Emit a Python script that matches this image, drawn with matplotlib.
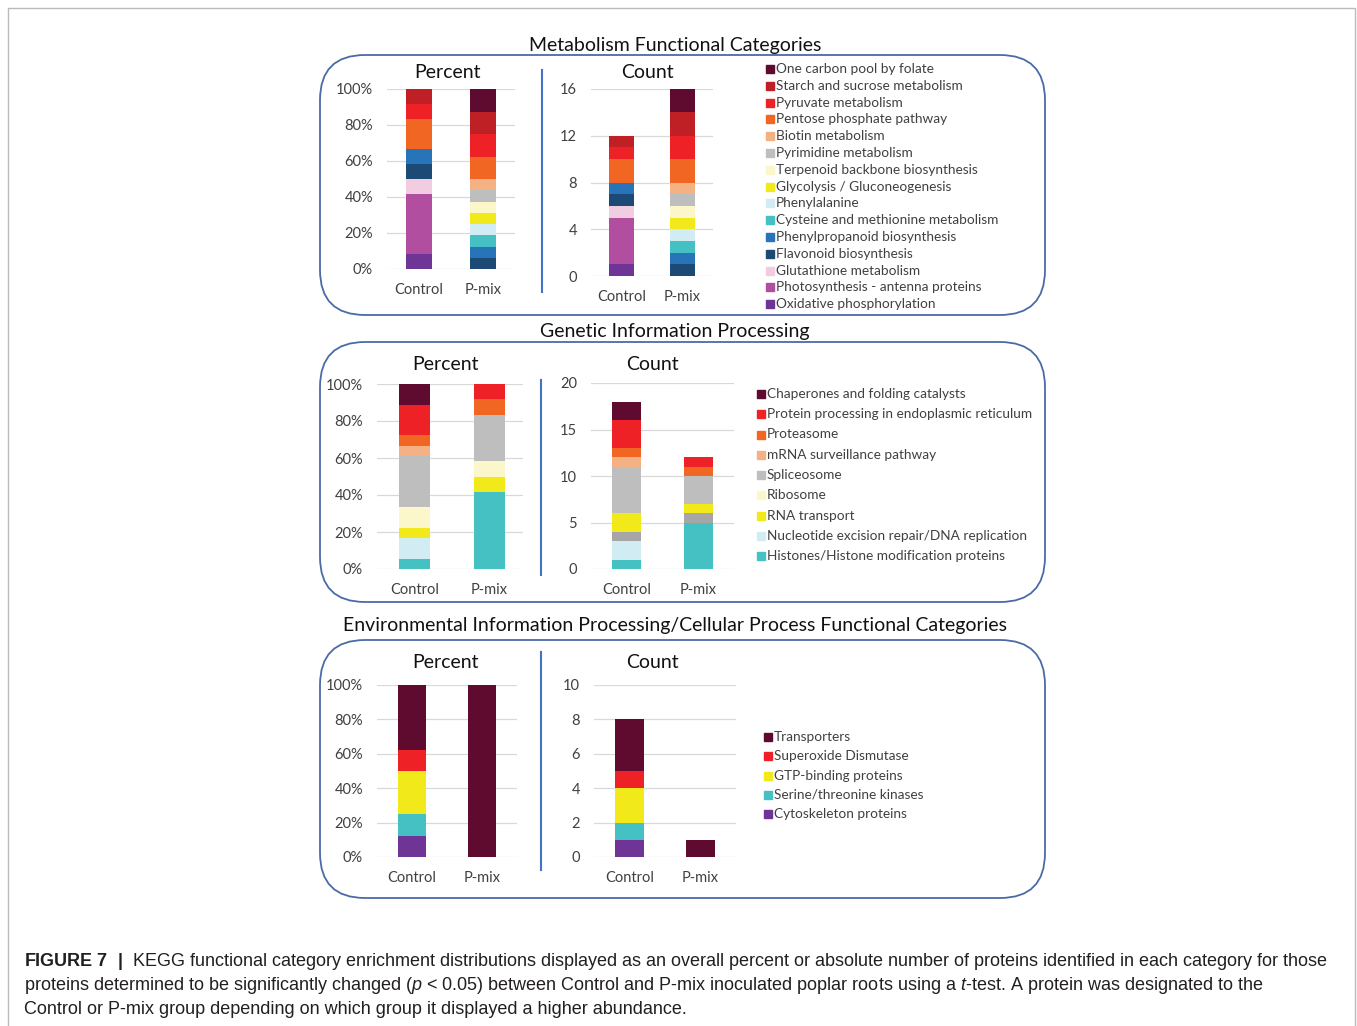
import matplotlib
matplotlib.use("Agg")
import matplotlib.pyplot as plt
from matplotlib.patches import FancyBboxPatch, Rectangle
import numpy as np

plt.rcParams['font.family'] = ['Lato', 'DejaVu Sans']
plt.rcParams['mathtext.fontset'] = 'custom'
plt.rcParams['mathtext.rm'] = 'Liberation Sans'
plt.rcParams['mathtext.it'] = 'Liberation Sans:italic'
plt.rcParams['mathtext.bf'] = 'Liberation Sans:bold'

W, H = 1357, 1026

groups = ["Control", "P-mix"]

# metabolism, bottom -> top of the stack
met_names = ["Oxidative phosphorylation", "Photosynthesis - antenna proteins",
             "Glutathione metabolism", "Flavonoid biosynthesis",
             "Phenylpropanoid biosynthesis", "Cysteine and methionine metabolism",
             "Phenylalanine", "Glycolysis / Gluconeogenesis",
             "Terpenoid backbone biosynthesis", "Pyrimidine metabolism",
             "Biotin metabolism", "Pentose phosphate pathway",
             "Pyruvate metabolism", "Starch and sucrose metabolism",
             "One carbon pool by folate"]
met_control = [1, 4, 1, 1, 1, 0, 0, 0, 0, 0, 0, 2, 1, 1, 0]
met_pmix = [0, 0, 0, 1, 1, 1, 1, 1, 1, 1, 1, 2, 2, 2, 2]
met_colors = ["#6E3596", "#B24EA0", "#F2CCE0", "#1C4A74", "#2774B8", "#45C0C3",
              "#D2ECF4", "#F2E91B", "#FCF6CB", "#BEBEBE", "#F4B184", "#F26623",
              "#EE2226", "#BF2026", "#5F0A2F"]

# genetic information processing
gen_names = ["Histones/Histone modification proteins",
             "Nucleotide excision repair/DNA replication", "RNA transport",
             "Ribosome", "Spliceosome", "mRNA surveillance pathway", "Proteasome",
             "Protein processing in endoplasmic reticulum",
             "Chaperones and folding catalysts"]
gen_control = [1, 2, 1, 2, 5, 1, 1, 3, 2]
gen_pmix = [5, 0, 1, 1, 3, 0, 1, 1, 0]
gen_colors = ["#45C0C3", "#D2ECF4", "#F2E91B", "#FCF6CB", "#BEBEBE", "#F4B184",
              "#F26623", "#EE2226", "#5F0A2F"]
# the count chart was coloured differently in the original
gen_colors_count = ["#45C0C3", "#D2ECF4", "#A6A6A6", "#F2E91B", "#BEBEBE", "#F4B184",
                    "#F26623", "#EE2226", "#5F0A2F"]

# environmental / cellular process
env_names = ["Cytoskeleton proteins", "Serine/threonine kinases",
             "GTP-binding proteins", "Superoxide Dismutase", "Transporters"]
env_control = [1, 1, 2, 1, 3]
env_pmix = [0, 0, 0, 0, 1]
env_colors = ["#6E3596", "#45C0C3", "#F2E91B", "#EE2226", "#5F0A2F"]

TXT = "#404040"
BOX = "#4A6BA6"

fig = plt.figure(figsize=(W / 100, H / 100), dpi=100)
bg = fig.add_axes([0, 0, 1, 1])
bg.set_xlim(0, W)
bg.set_ylim(H, 0)
bg.axis("off")


def px_axes(l, r, t, b):
    return fig.add_axes([l / W, 1 - b / H, (r - l) / W, (b - t) / H])


def stacked(ax, control, pmix, colors, percent, ymax, step, xr=1.5, width=0.41):
    vals = np.array([control, pmix], dtype=float)
    if percent:
        vals = vals / vals.sum(axis=1, keepdims=True) * 100
    bottom = np.zeros(2)
    for k in range(vals.shape[1]):
        ax.bar([0, 1], vals[:, k], width, bottom=bottom, color=colors[k], zorder=3)
        bottom += vals[:, k]
    ax.set_xlim(-0.5, xr)
    ax.set_ylim(0, ymax)
    ticks = np.arange(0, ymax + 0.1, step)
    ax.set_yticks(ticks)
    if percent:
        ax.set_yticklabels(["%d%%" % t for t in ticks])
    else:
        ax.set_yticklabels(["%d" % t for t in ticks])
    ax.set_xticks([0, 1])
    ax.set_xticklabels(groups)
    ax.tick_params(length=0, pad=10, labelsize=10.5, labelcolor=TXT)
    ax.grid(axis="y", color="#D9D9D9", lw=0.9, zorder=0)
    for s in ax.spines.values():
        s.set_visible(False)
    ax.patch.set_alpha(0)


def legend(names, colors, x, y0, step, size=9.8):
    for i, (n, c) in enumerate(zip(names[::-1], colors[::-1])):
        y = y0 + i * step
        bg.add_patch(Rectangle((x, y - 4), 8, 8, color=c))
        bg.text(x + 10, y, n, fontsize=size, color=TXT, va="center", ha="left")


def panel_box(top, bottom, title, ty):
    bg.add_patch(FancyBboxPatch((320, top), 725, bottom - top,
                                boxstyle="round,pad=0,rounding_size=45",
                                fill=False, ec=BOX, lw=1.3))
    bg.text(675, ty, title, fontsize=14, ha="center", va="center", color="#111111")


def subtitles(y, xp, xc):
    bg.text(xp, y, "Percent", fontsize=14, ha="center", va="center", color="#111111")
    bg.text(xc, y, "Count", fontsize=14, ha="center", va="center", color="#111111")


# outer frame
bg.plot([8, 8, 1355, 1355], [H, 8, 8, H], color="#BBBBBB", lw=1)

# panel 1
panel_box(55, 315, "Metabolism Functional Categories", 45)
bg.plot([542, 542], [70, 292], color="#4472C4", lw=1.5)
subtitles(72, 447, 647)
stacked(px_axes(387, 515, 89, 269), met_control, met_pmix, met_colors, True, 100, 20)
stacked(px_axes(591, 713, 89, 276), met_control, met_pmix, met_colors, False, 16, 4)
legend(met_names, met_colors, 766, 69, 16.8)

# panel 2
panel_box(342, 602, "Genetic Information Processing", 331)
bg.plot([541, 541], [380, 575], color="#4472C4", lw=1.5)
subtitles(364, 446, 652)
stacked(px_axes(377, 523, 384, 569), gen_control, gen_pmix, gen_colors, True, 100, 20,
        xr=1.45)
stacked(px_axes(591, 734, 383, 569), gen_control, gen_pmix, gen_colors_count, False, 20, 5)
legend(gen_names, gen_colors, 757, 394, 20.25)

# panel 3
panel_box(640, 898, "Environmental Information Processing/Cellular Process Functional Categories", 625)
bg.plot([541, 541], [652, 870], color="#4472C4", lw=1.5)
subtitles(663, 446, 652)
stacked(px_axes(377, 517, 685, 857), env_control, env_pmix, env_colors, True, 100, 20)
stacked(px_axes(594, 736, 685, 857), env_control, env_pmix, env_colors, False, 10, 2)
legend(env_names, env_colors, 764, 737, 19.25)

# caption
cap = [r"$\bf{FIGURE\ 7\ \ |}$  KEGG functional category enrichment distributions displayed as an overall percent or absolute number of proteins identified in each category for those",
       r"proteins determined to be significantly changed ($\it{p}$ < 0.05) between Control and P-mix inoculated poplar roots using a $\it{t}$-test. A protein was designated to the",
       "Control or P-mix group depending on which group it displayed a higher abundance."]
for i, line in enumerate(cap):
    bg.text(24, 961 + i * 24.5, line, fontsize=13, ha="left", va="center",
            color="#231F20", family=["Liberation Sans"])

fig.savefig("out.png", dpi=100)
